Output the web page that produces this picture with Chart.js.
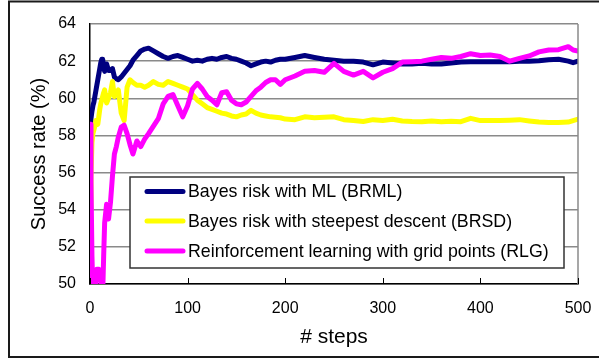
<!DOCTYPE html>
<html>
<head>
<meta charset="utf-8">
<script src="https://cdn.jsdelivr.net/npm/chart.js@4.4.1/dist/chart.umd.min.js"></script>
<style>
  html, body { margin: 0; padding: 0; background: #fff; }
  canvas { display: block; }
</style>
</head>
<body>
<canvas id="chart" width="599" height="358"></canvas>
<script>
// data
const steps = [0,1,2,3,4,5,6,7,8,9,10,11,12,13,14,15,17,19,21,23,25,27,29,32,35,38,41,44,48,52,56,60,
  65,70,75,80,85,90,95,100,105,110,115,120,125,130,135,140,145,150,155,160,165,170,175,180,185,190,195,200,
  210,220,230,240,250,260,270,280,290,300,310,320,330,340,350,360,370,380,390,400,410,420,430,440,450,460,470,480,490,495,500];

const brml = [58.5,58.9,59.3,59.6,59.8,60.1,60.4,60.7,61.0,61.3,61.6,61.9,62.1,62.1,61.7,61.45,61.85,61.5,61.5,61.6,61.15,61.05,61.0,61.15,61.35,61.55,61.75,62.05,62.3,62.55,62.65,62.7,
  62.55,62.4,62.25,62.15,62.25,62.3,62.2,62.1,62.0,62.05,62.0,62.1,62.15,62.1,62.2,62.25,62.15,62.1,62.0,61.9,61.75,61.85,61.95,62.0,61.95,62.05,62.1,62.1,
  62.2,62.3,62.2,62.1,62.05,62.0,62.0,61.95,61.8,61.95,61.9,61.85,61.85,61.88,61.85,61.85,61.9,61.95,61.97,61.97,61.97,61.97,61.97,62.0,62.0,62.02,62.08,62.1,62.0,61.92,62.0];

const brsd = [54.0,55.8,57.6,58.1,58.3,58.5,58.8,58.7,58.6,59.0,59.4,59.7,59.9,60.1,60.3,60.45,59.75,60.0,60.3,60.9,60.1,60.3,60.45,59.2,58.8,60.6,61.0,60.85,60.7,60.7,60.6,60.7,
  60.9,60.75,60.7,60.9,60.8,60.7,60.6,60.5,60.2,59.9,59.7,59.5,59.4,59.3,59.2,59.15,59.05,59.0,59.1,59.15,59.35,59.2,59.1,59.05,59.0,58.98,58.95,58.88,
  58.85,59.0,58.95,58.98,59.0,58.85,58.8,58.75,58.85,58.8,58.87,58.78,58.75,58.74,58.78,58.74,58.76,58.74,58.92,58.8,58.8,58.8,58.82,58.85,58.78,58.72,58.7,58.7,58.72,58.8,58.87];

const rlg = [58.6,55.5,51.5,49.5,49.3,49.5,50.2,50.8,50.8,50.8,50.7,50.2,49.6,49.5,51.5,53.3,54.3,53.5,54.4,55.8,57.0,57.4,57.9,58.45,58.55,58.1,57.5,57.0,57.7,57.4,57.8,58.1,
  58.5,58.9,59.7,60.1,60.2,59.6,59.0,59.6,60.5,60.8,60.5,60.1,59.9,59.65,60.3,60.35,59.9,59.7,59.65,59.8,60.1,60.4,60.6,60.85,61.0,61.0,60.75,61.0,
  61.2,61.45,61.5,61.4,61.88,61.45,61.25,61.45,61.1,61.4,61.6,61.95,61.97,62.0,62.1,62.2,62.15,62.25,62.4,62.3,62.33,62.25,62.0,62.15,62.28,62.5,62.6,62.62,62.78,62.6,62.55];

const seriesNames = [
  'Bayes risk with ML (BRML)',
  'Bayes risk with steepest descent (BRSD)',
  'Reinforcement learning with grid points (RLG)'
];
const seriesColors = ['#000080', '#ffff00', '#ff00ff'];
const xTitle = '# steps';
const yTitle = 'Success rate (%)';

const FONT = '"Liberation Sans", Arial, sans-serif';

function points(values) {
  return steps.map((s, i) => ({ x: s, y: values[i] }));
}

// frame, right border of the plot, inward x tick marks
const decorations = {
  id: 'decorations',
  beforeDraw(chart) {
    const ctx = chart.ctx;
    ctx.save();
    ctx.fillStyle = '#fff';
    ctx.fillRect(0, 0, chart.width, chart.height);
    ctx.restore();
  },
  afterDraw(chart) {
    const ctx = chart.ctx;
    const area = chart.chartArea;
    const xScale = chart.scales.x;
    ctx.save();
    // grey right border
    ctx.strokeStyle = '#8a8a8a';
    ctx.lineWidth = 1.5;
    ctx.beginPath();
    ctx.moveTo(area.right, area.top);
    ctx.lineTo(area.right, area.bottom);
    ctx.stroke();
    // tick marks pointing up into the plot
    ctx.strokeStyle = '#000';
    ctx.lineWidth = 1;
    xScale.ticks.forEach(t => {
      const px = Math.round(xScale.getPixelForValue(t.value)) + 0.5;
      ctx.beginPath();
      ctx.moveTo(px, area.bottom);
      ctx.lineTo(px, area.bottom - 6);
      ctx.stroke();
    });
    // outer frame
    ctx.strokeStyle = '#1a1a1a';
    ctx.lineWidth = 2;
    ctx.strokeRect(9, 1.5, chart.width + 10, chart.height - 2.5);
    ctx.restore();
  }
};

// boxed legend inside the plot
const boxLegend = {
  id: 'boxLegend',
  afterDatasetsDraw(chart) {
    const ctx = chart.ctx;
    const box = { left: 130, top: 177, right: 564, bottom: 268 };
    const rows = [191.5, 221, 251];
    ctx.save();
    ctx.fillStyle = '#fff';
    ctx.fillRect(box.left, box.top, box.right - box.left, box.bottom - box.top);
    ctx.strokeStyle = '#333';
    ctx.lineWidth = 1.5;
    ctx.strokeRect(box.left, box.top, box.right - box.left, box.bottom - box.top);
    ctx.font = '17.8px ' + FONT;
    ctx.textBaseline = 'middle';
    ctx.textAlign = 'left';
    chart.data.datasets.forEach((ds, i) => {
      const y = rows[i];
      ctx.strokeStyle = ds.borderColor;
      ctx.lineWidth = 5;
      ctx.lineCap = 'round';
      ctx.beginPath();
      ctx.moveTo(147, y);
      ctx.lineTo(183, y);
      ctx.stroke();
      ctx.fillStyle = '#000';
      ctx.fillText(ds.label, 188, y + 1);
    });
    ctx.restore();
  }
};

new Chart(document.getElementById('chart'), {
  type: 'line',
  data: {
    datasets: [
      { label: seriesNames[0], data: points(brml), borderColor: seriesColors[0], order: 3 },
      { label: seriesNames[1], data: points(brsd), borderColor: seriesColors[1], order: 2 },
      { label: seriesNames[2], data: points(rlg), borderColor: seriesColors[2], order: 1 }
    ]
  },
  options: {
    responsive: false,
    animation: false,
    elements: {
      line: { borderWidth: 5, tension: 0, borderJoinStyle: 'round', borderCapStyle: 'round' },
      point: { radius: 0 }
    },
    layout: { padding: { top: 24, right: 21, left: 0, bottom: 0 } },
    plugins: {
      legend: { display: false },
      tooltip: { enabled: false }
    },
    scales: {
      x: {
        type: 'linear',
        min: 0,
        max: 500,
        afterFit: scale => {
          scale.height = 74;
          scale.paddingLeft = 0;
          scale.paddingRight = 0;
        },
        ticks: { stepSize: 100, color: '#000', font: { family: FONT, size: 16 }, padding: 15, maxRotation: 0 },
        grid: { drawOnChartArea: false, drawTicks: false },
        border: { color: '#000', width: 1.5 },
        title: { display: true, text: xTitle, color: '#000', font: { family: FONT, size: 21 }, padding: { bottom: 8.5, top: 0 } }
      },
      y: {
        min: 50,
        max: 64,
        afterFit: scale => {
          scale.width = 90;
          scale.paddingTop = 0;
          scale.paddingBottom = 0;
        },
        ticks: { stepSize: 2, color: '#000', font: { family: FONT, size: 16 }, padding: 14 },
        grid: { color: '#8a8a8a', lineWidth: 1.5, drawTicks: false },
        border: { color: '#000', width: 1.5 },
        title: { display: true, text: yTitle, color: '#000', font: { family: FONT, size: 20 }, padding: { top: 27, bottom: 0 } }
      }
    }
  },
  plugins: [decorations, boxLegend]
});
</script>
</body>
</html>
